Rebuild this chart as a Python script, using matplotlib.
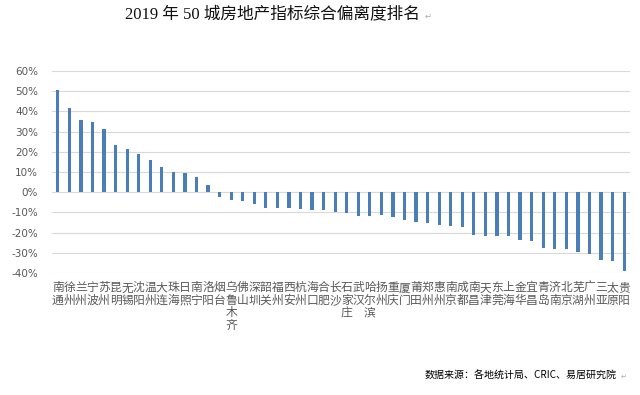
import numpy as np
import matplotlib
matplotlib.use("Agg")
import matplotlib.pyplot as plt

plt.rcParams['font.family'] = ['Noto Sans CJK SC', 'DejaVu Sans']

cities = ['南通', '徐州', '兰州', '宁波', '苏州', '昆明', '无锡', '沈阳', '温州', '大连',
          '珠海', '日照', '南宁', '洛阳', '烟台', '乌鲁木齐', '佛山', '深圳', '韶关', '福州',
          '西安', '杭州', '海口', '合肥', '长沙', '石家庄', '武汉', '哈尔滨', '扬州', '重庆',
          '厦门', '莆田', '郑州', '惠州', '南京', '成都', '南昌', '天津', '东莞', '上海',
          '金华', '宜昌', '青岛', '济南', '北京', '芜湖', '广州', '三亚', '太原', '贵阳']
values = [50.5, 41.5, 35.9, 34.6, 31.3, 23.5, 21.2, 19.1, 16.0, 12.5,
          10.0, 9.5, 7.7, 3.6, -2.6, -4.0, -4.6, -5.8, -7.9, -7.9,
          -7.9, -8.2, -8.7, -8.9, -9.9, -10.2, -11.7, -11.7, -11.5, -12.3,
          -13.8, -14.6, -15.5, -16.5, -16.6, -17.1, -21.1, -21.6, -21.9, -21.9,
          -23.5, -24.2, -27.8, -28.1, -28.1, -29.8, -30.8, -33.6, -34.1, -39.2]
yticks = [60, 50, 40, 30, 20, 10, 0, -10, -20, -30, -40]

fig = plt.figure(figsize=(6.4, 3.95), dpi=100)
ax = fig.add_axes([0.08125, 0.309, 0.903, 0.5114])

x = np.arange(len(cities))
ax.bar(x, values, width=0.28, color='#4a7ebb', zorder=3)

ax.set_ylim(-40, 60)
ax.set_xlim(-0.5, len(cities) - 0.5)
ax.set_yticks(yticks)
ax.set_yticklabels([f'{v}%' for v in yticks], fontsize=7.5, color='#595959',
                   family=['DejaVu Sans'])
ax.set_xticks(x)
ax.set_xticklabels(['\n'.join(c) for c in cities], fontsize=8.5, color='#595959',
                   va='top', linespacing=0.95)
ax.tick_params(axis='both', length=0)
ax.tick_params(axis='y', pad=10)
ax.tick_params(axis='x', pad=6)
ax.grid(axis='y', color='#d9d9d9', lw=0.8, zorder=0)
for s in ax.spines.values():
    s.set_visible(False)

fig.text(0.425, 0.963, '2019 年 50 城房地产指标综合偏离度排名', ha='center', va='center',
         fontsize=12, fontweight='medium', color='#111111',
         family=['Liberation Serif', 'Noto Sans CJK SC'])
fig.text(0.663, 0.958, '↵', ha='left', va='center', fontsize=6, color='#aaaaaa',
         family=['DejaVu Sans'])
fig.text(0.664, 0.048, '数据来源：各地统计局、CRIC、易居研究院', ha='left', va='center',
         fontsize=7.2)
fig.text(0.97, 0.046, '↵', ha='left', va='center', fontsize=5, color='#aaaaaa',
         family=['DejaVu Sans'])

fig.savefig('out.png', dpi=100, facecolor='white')
